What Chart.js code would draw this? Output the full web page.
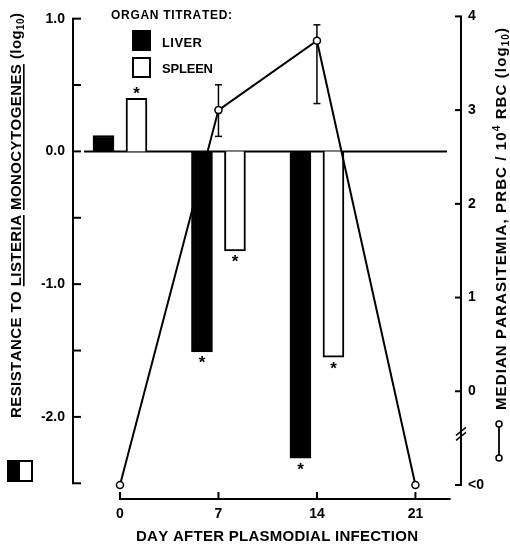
<!DOCTYPE html>
<html>
<head>
<meta charset="utf-8">
<script src="https://cdn.jsdelivr.net/npm/chart.js@4.4.1/dist/chart.umd.min.js"></script>
<style>
  html, body { margin: 0; padding: 0; background: #fff; }
  #wrap { width: 510px; height: 545px; position: relative; }
</style>
</head>
<body>
<div id="wrap"><canvas id="chart"></canvas></div>
<script>
// resistance to Listeria, log10, by organ
const barDays = [0, 7, 14];
const liver = [0.12, -1.51, -2.31];
const spleen = [0.40, -0.75, -1.55];
const liverStar = [false, true, true];
const spleenStar = [true, true, true];

// median parasitemia, log10 PRBC / 10^4 RBC (-1 is the "<0" row)
const lineDays = [0, 7, 14, 21];
const parasitemia = [-1, 3.0, 3.74, -1];
const errLow = [null, 2.72, 3.07, null];
const errHigh = [null, 3.27, 3.91, null];

const xTicks = [0, 7, 14, 21];
const leftTicks = [1, 0.5, 0, -0.5, -1, -1.5, -2, -2.5];
const leftLabels = ['1.0', '', '0.0', '', '-1.0', '', '-2.0', ''];
const rightTicks = [4, 3, 2, 1, 0, -1];
const rightLabels = ['4', '3', '2', '1', '0', '<0'];

const FONT = "'Liberation Sans', Arial, Helvetica, sans-serif";
Chart.defaults.font.family = FONT;
Chart.defaults.color = '#000';

function font(size) { return 'bold ' + size + 'px ' + FONT; }

// draw text pieces char by char, spread to fill len px if given
function textRun(ctx, pieces, x, y, len) {
  let natural = 0, n = 0;
  pieces.forEach(p => {
    ctx.font = font(p.size);
    for (const ch of p.t) { natural += ctx.measureText(ch).width; n++; }
  });
  const gap = len ? (len - natural) / (n - 1) : 0;
  let cx = x;
  pieces.forEach(p => {
    ctx.font = font(p.size);
    const start = cx;
    for (const ch of p.t) {
      ctx.fillText(ch, cx, y + (p.dy || 0));
      cx += ctx.measureText(ch).width + gap;
    }
    if (p.u) ctx.fillRect(start, y + 2, cx - gap - start, 1.6);
  });
}

function line(ctx, x1, y1, x2, y2) {
  ctx.beginPath();
  ctx.moveTo(x1, y1);
  ctx.lineTo(x2, y2);
  ctx.stroke();
}

const decor = {
  id: 'decor',
  beforeDatasetsDraw(chart) {
    const ctx = chart.ctx;
    const a = chart.chartArea;
    const xs = chart.scales.x, yl = chart.scales.y, yr = chart.scales.y1;
    ctx.save();
    ctx.strokeStyle = '#000';
    ctx.lineWidth = 2;

    // zero line
    line(ctx, a.left + 11, yl.getPixelForValue(0), a.right - 14, yl.getPixelForValue(0));

    // left axis
    line(ctx, a.left, yl.getPixelForValue(1), a.left, yl.getPixelForValue(-2.5));
    leftTicks.forEach(v => line(ctx, a.left - 1, yl.getPixelForValue(v), a.left + 8, yl.getPixelForValue(v)));

    // right axis with break
    line(ctx, a.right, yr.getPixelForValue(4), a.right, yr.getPixelForValue(-1));
    rightTicks.forEach(v => line(ctx, a.right - 6, yr.getPixelForValue(v), a.right + 1, yr.getPixelForValue(v)));
    const yb = yr.getPixelForValue(-0.45);
    ctx.lineWidth = 1.5;
    line(ctx, a.right - 5, yb + 2, a.right + 5, yb - 6);
    line(ctx, a.right - 5, yb + 7, a.right + 5, yb - 1);

    // bottom axis
    ctx.lineWidth = 2;
    const yx = a.bottom + 14;
    line(ctx, xs.getPixelForValue(0) - 1, yx, xs.getPixelForValue(23.5), yx);
    xTicks.forEach(v => line(ctx, xs.getPixelForValue(v), yx - 7, xs.getPixelForValue(v), yx));

    // error bars under the open circles
    ctx.lineWidth = 1.5;
    lineDays.forEach((d, i) => {
      if (errLow[i] == null) return;
      const x = xs.getPixelForValue(d);
      const lo = yr.getPixelForValue(errLow[i]), hi = yr.getPixelForValue(errHigh[i]);
      line(ctx, x, lo, x, hi);
      line(ctx, x - 3.5, lo, x + 3.5, lo);
      line(ctx, x - 3.5, hi, x + 3.5, hi);
    });
    ctx.restore();
  },
  afterDatasetsDraw(chart) {
    const ctx = chart.ctx;
    ctx.save();
    ctx.fillStyle = '#000';
    ctx.strokeStyle = '#000';

    // significance stars
    ctx.font = font(17);
    ctx.textAlign = 'center';
    ctx.textBaseline = 'alphabetic';
    const m = ctx.measureText('*');
    const shift = (m.actualBoundingBoxAscent - m.actualBoundingBoxDescent) / 2;
    [[1, liverStar], [2, spleenStar]].forEach(([di, flags]) => {
      chart.getDatasetMeta(di).data.forEach((bar, j) => {
        if (!flags[j]) return;
        const up = bar.y < bar.base;
        const cy = up ? bar.y - 8 : bar.y + 8;
        ctx.fillText('*', bar.x, cy + shift);
      });
    });

    // organ legend
    ctx.textAlign = 'left';
    textRun(ctx, [{ t: 'ORGAN TITRATED:', size: 12 }], 111, 18.5, 121);
    ctx.fillRect(132, 30, 19, 21);
    ctx.lineWidth = 2;
    ctx.strokeRect(133, 58, 17, 19);
    textRun(ctx, [{ t: 'LIVER', size: 13 }], 162, 46.5, 40);
    textRun(ctx, [{ t: 'SPLEEN', size: 13 }], 162, 73, 51);

    // x title
    textRun(ctx, [{ t: 'DAY AFTER PLASMODIAL INFECTION', size: 15 }], 136, 540.5, 282);

    // left title, reads bottom to top
    ctx.save();
    ctx.translate(21, 418);
    ctx.rotate(-Math.PI / 2);
    textRun(ctx, [
      { t: 'RESISTANCE TO ', size: 15 },
      { t: 'LISTERIA', size: 15, u: true },
      { t: ' ', size: 15 },
      { t: 'MONOCYTOGENES', size: 15, u: true },
      { t: ' (log', size: 15 },
      { t: '10', size: 10, dy: 3 },
      { t: ')', size: 15 }
    ], 0, 0, 405);
    ctx.restore();

    // right title
    ctx.save();
    ctx.translate(506, 410);
    ctx.rotate(-Math.PI / 2);
    textRun(ctx, [
      { t: 'MEDIAN PARASITEMIA, PRBC / 10', size: 15 },
      { t: '4', size: 10, dy: -6 },
      { t: ' RBC (log', size: 15 },
      { t: '10', size: 10, dy: 3 },
      { t: ')', size: 15 }
    ], 0, 0, 382);
    ctx.restore();

    // key symbols beside the titles
    ctx.fillRect(7, 460, 13, 22);
    ctx.lineWidth = 2;
    ctx.strokeRect(8, 461, 24, 20);
    ctx.lineWidth = 1.8;
    line(ctx, 499, 424, 499, 458);
    ctx.fillStyle = '#fff';
    ctx.lineWidth = 1.5;
    [424, 458].forEach(y => {
      ctx.beginPath();
      ctx.arc(499, y, 3, 0, Math.PI * 2);
      ctx.fill();
      ctx.stroke();
    });
    ctx.restore();
  }
};

new Chart(document.getElementById('chart'), {
  type: 'bar',
  data: {
    datasets: [
      {
        type: 'line',
        label: 'Median parasitemia',
        data: lineDays.map((d, i) => ({ x: d, y: parasitemia[i] })),
        yAxisID: 'y1',
        borderColor: '#000',
        borderWidth: 2,
        pointRadius: 3.5,
        pointBackgroundColor: '#fff',
        pointBorderColor: '#000',
        pointBorderWidth: 1.5,
        tension: 0,
        clip: false,
        order: 0
      },
      {
        label: 'Liver',
        data: barDays.map((d, i) => ({ x: d, y: liver[i] })),
        yAxisID: 'y',
        backgroundColor: '#000',
        borderColor: '#000',
        borderWidth: 2,
        barThickness: 33,
        maxBarThickness: 21,
        order: 1
      },
      {
        label: 'Spleen',
        data: barDays.map((d, i) => ({ x: d, y: spleen[i] })),
        yAxisID: 'y',
        backgroundColor: '#fff',
        borderColor: '#000',
        borderWidth: 2,
        barThickness: 33,
        maxBarThickness: 21,
        order: 1
      }
    ]
  },
  options: {
    responsive: true,
    maintainAspectRatio: false,
    animation: false,
    devicePixelRatio: 1,
    layout: { padding: { top: 16, left: 0, right: 0, bottom: 0 } },
    plugins: { legend: { display: false }, tooltip: { enabled: false } },
    scales: {
      x: {
        type: 'linear',
        offset: false,
        min: -3.34,
        max: 24.24,
        grid: { display: false, drawTicks: false, offset: false },
        border: { display: false },
        afterBuildTicks: s => { s.ticks = xTicks.map(v => ({ value: v })); },
        afterFit: s => { s.height = 60; },
        ticks: { font: { size: 14, weight: 'bold' }, padding: 21, maxRotation: 0, autoSkip: false }
      },
      y: {
        position: 'left',
        min: -2.513,
        max: 1.017,
        grid: { display: false, drawTicks: false },
        border: { display: false },
        afterBuildTicks: s => { s.ticks = leftTicks.map(v => ({ value: v })); },
        afterFit: s => { s.width = 73; },
        ticks: { font: { size: 14, weight: 'bold' }, padding: 8, autoSkip: false, callback: (v, i) => leftLabels[i] }
      },
      y1: {
        position: 'right',
        min: -1,
        max: 4,
        grid: { display: false, drawTicks: false },
        border: { display: false },
        afterBuildTicks: s => { s.ticks = rightTicks.map(v => ({ value: v })); },
        afterFit: s => { s.width = 49; },
        ticks: { font: { size: 14, weight: 'bold' }, padding: 7, autoSkip: false, callback: (v, i) => rightLabels[i] }
      }
    }
  },
  plugins: [decor]
});
</script>
</body>
</html>
